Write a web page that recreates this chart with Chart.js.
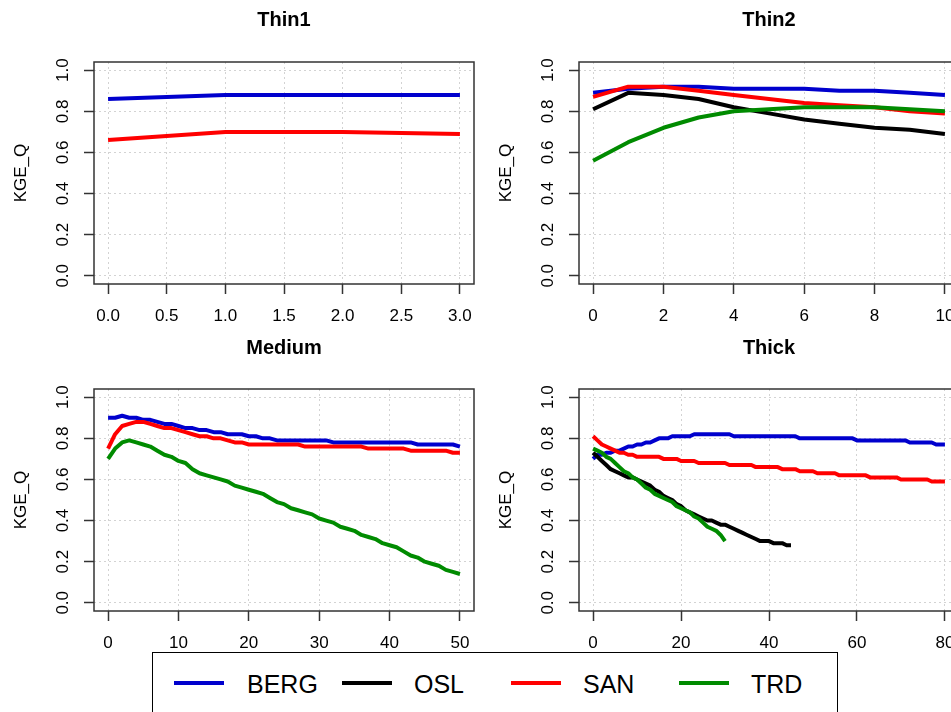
<!DOCTYPE html>
<html>
<head>
<meta charset="utf-8">
<script src="https://cdn.jsdelivr.net/npm/chart.js@4.4.0/dist/chart.umd.min.js"></script>
<style>
  html, body { margin: 0; padding: 0; background: #fff; overflow: hidden; width: 951px; height: 712px; }
  canvas { position: absolute; }
  #legend { position: absolute; left: 152px; top: 652px; width: 686px; height: 80px; box-sizing: border-box;
            border: 1.5px solid #000; background: #fff; font-family: 'Liberation Sans', Arial, sans-serif; font-size: 25px; }
  .sw { position: absolute; top: 28px; width: 50px; height: 4px; }
  .lb { position: absolute; top: 19px; line-height: 25px; color: #000; }
</style>
</head>
<body>
<canvas id="thin1" width="480" height="330" style="left:0;top:0"></canvas>
<canvas id="thin2" width="480" height="330" style="left:485px;top:0"></canvas>
<canvas id="medium" width="480" height="330" style="left:0;top:330px"></canvas>
<canvas id="thick" width="480" height="330" style="left:485px;top:330px"></canvas>
<div id="legend">
  <div class="sw" style="left:21px;background:#0000CD"></div><span class="lb" style="left:94px">BERG</span>
  <div class="sw" style="left:189px;background:#000"></div><span class="lb" style="left:261px">OSL</span>
  <div class="sw" style="left:358px;background:#FF0000"></div><span class="lb" style="left:430px">SAN</span>
  <div class="sw" style="left:526px;background:#008B00"></div><span class="lb" style="left:598px">TRD</span>
</div>
<script>
// x runs 0,1,2,... for every series (index = x value)
const thin1Berg = [0.86, 0.88, 0.88, 0.88];
const thin1San  = [0.66, 0.70, 0.70, 0.69];

const thin2Berg = [0.89, 0.91, 0.92, 0.92, 0.91, 0.91, 0.91, 0.90, 0.90, 0.89, 0.88];
const thin2Osl  = [0.81, 0.89, 0.88, 0.86, 0.82, 0.79, 0.76, 0.74, 0.72, 0.71, 0.69];
const thin2San  = [0.87, 0.92, 0.92, 0.90, 0.88, 0.86, 0.84, 0.83, 0.82, 0.80, 0.79];
const thin2Trd  = [0.56, 0.65, 0.72, 0.77, 0.80, 0.81, 0.82, 0.82, 0.82, 0.81, 0.80];

const mediumBerg = [0.90, 0.90, 0.91, 0.90, 0.90, 0.89, 0.89, 0.88, 0.87, 0.87,
  0.86, 0.85, 0.85, 0.84, 0.84, 0.83, 0.83, 0.82, 0.82, 0.82,
  0.81, 0.81, 0.80, 0.80, 0.79, 0.79, 0.79, 0.79, 0.79, 0.79,
  0.79, 0.79, 0.78, 0.78, 0.78, 0.78, 0.78, 0.78, 0.78, 0.78,
  0.78, 0.78, 0.78, 0.78, 0.77, 0.77, 0.77, 0.77, 0.77, 0.77, 0.76];
const mediumSan = [0.75, 0.82, 0.86, 0.87, 0.88, 0.88, 0.87, 0.86, 0.85, 0.85,
  0.84, 0.83, 0.82, 0.81, 0.81, 0.80, 0.80, 0.79, 0.78, 0.78,
  0.77, 0.77, 0.77, 0.77, 0.77, 0.77, 0.77, 0.77, 0.76, 0.76,
  0.76, 0.76, 0.76, 0.76, 0.76, 0.76, 0.76, 0.75, 0.75, 0.75,
  0.75, 0.75, 0.75, 0.74, 0.74, 0.74, 0.74, 0.74, 0.74, 0.73, 0.73];
const mediumTrd = [0.70, 0.75, 0.78, 0.79, 0.78, 0.77, 0.76, 0.74, 0.72, 0.71,
  0.69, 0.68, 0.65, 0.63, 0.62, 0.61, 0.60, 0.59, 0.57, 0.56,
  0.55, 0.54, 0.53, 0.51, 0.49, 0.48, 0.46, 0.45, 0.44, 0.43,
  0.41, 0.40, 0.39, 0.37, 0.36, 0.35, 0.33, 0.32, 0.31, 0.29,
  0.28, 0.27, 0.25, 0.23, 0.22, 0.20, 0.19, 0.18, 0.16, 0.15, 0.14];

const thickBerg = [0.70, 0.72, 0.72, 0.73, 0.73, 0.74, 0.74, 0.75, 0.76, 0.76,
  0.77, 0.77, 0.78, 0.78, 0.79, 0.80, 0.80, 0.80, 0.81, 0.81,
  0.81, 0.81, 0.81, 0.82, 0.82, 0.82, 0.82, 0.82, 0.82, 0.82,
  0.82, 0.82, 0.81, 0.81, 0.81, 0.81, 0.81, 0.81, 0.81, 0.81,
  0.81, 0.81, 0.81, 0.81, 0.81, 0.81, 0.81, 0.80, 0.80, 0.80,
  0.80, 0.80, 0.80, 0.80, 0.80, 0.80, 0.80, 0.80, 0.80, 0.80,
  0.79, 0.79, 0.79, 0.79, 0.79, 0.79, 0.79, 0.79, 0.79, 0.79,
  0.79, 0.79, 0.78, 0.78, 0.78, 0.78, 0.78, 0.78, 0.77, 0.77, 0.77];
const thickOsl = [0.73, 0.71, 0.69, 0.67, 0.65, 0.64, 0.63, 0.62, 0.61, 0.61,
  0.60, 0.59, 0.58, 0.57, 0.55, 0.54, 0.52, 0.51, 0.50, 0.48,
  0.47, 0.45, 0.44, 0.43, 0.42, 0.41, 0.40, 0.40, 0.39, 0.38,
  0.38, 0.37, 0.36, 0.35, 0.34, 0.33, 0.32, 0.31, 0.30, 0.30,
  0.30, 0.29, 0.29, 0.29, 0.28, 0.28];
const thickSan = [0.81, 0.79, 0.77, 0.76, 0.75, 0.74, 0.73, 0.73, 0.72, 0.72,
  0.71, 0.71, 0.71, 0.71, 0.71, 0.71, 0.70, 0.70, 0.70, 0.70,
  0.69, 0.69, 0.69, 0.69, 0.68, 0.68, 0.68, 0.68, 0.68, 0.68,
  0.68, 0.67, 0.67, 0.67, 0.67, 0.67, 0.67, 0.66, 0.66, 0.66,
  0.66, 0.66, 0.66, 0.65, 0.65, 0.65, 0.65, 0.64, 0.64, 0.64,
  0.64, 0.63, 0.63, 0.63, 0.63, 0.63, 0.62, 0.62, 0.62, 0.62,
  0.62, 0.62, 0.62, 0.61, 0.61, 0.61, 0.61, 0.61, 0.61, 0.61,
  0.60, 0.60, 0.60, 0.60, 0.60, 0.60, 0.60, 0.59, 0.59, 0.59, 0.59];
const thickTrd = [0.75, 0.74, 0.73, 0.71, 0.70, 0.68, 0.66, 0.64, 0.63, 0.61,
  0.60, 0.58, 0.56, 0.55, 0.53, 0.52, 0.51, 0.50, 0.49, 0.47,
  0.46, 0.45, 0.44, 0.42, 0.41, 0.39, 0.37, 0.36, 0.35, 0.33, 0.30];

const yTicks = [0, 0.2, 0.4, 0.6, 0.8, 1.0];
const thin1Ticks = [0, 0.5, 1.0, 1.5, 2.0, 2.5, 3.0];
const thin2Ticks = [0, 2, 4, 6, 8, 10];
const mediumTicks = [0, 10, 20, 30, 40, 50];
const thickTicks = [0, 20, 40, 60, 80];

const FONT = "'Liberation Sans', Arial, sans-serif";
const COLORS = { BERG: '#0000CD', OSL: '#000000', SAN: '#FF0000', TRD: '#008B00' };
const ORDER = { BERG: 4, OSL: 3, SAN: 2, TRD: 1 };  // TRD drawn last, like R

const frame = {
  id: 'frame',
  beforeDatasetsDraw(chart) {
    const { ctx, chartArea: a } = chart;
    ctx.save();
    ctx.strokeStyle = '#333';
    ctx.lineWidth = 1.5;
    ctx.strokeRect(a.left, a.top, a.right - a.left, a.bottom - a.top);
    ctx.restore();
  }
};

function panel(id, title, titleTop, xMin, xMax, xTicks, xFmt, series) {
  const titleBottom = 38 - titleTop + (titleTop === 8 ? 0 : -3);
  const xHeight = titleTop === 8 ? 46 : 49;
  new Chart(document.getElementById(id), {
    type: 'line',
    data: {
      datasets: series.map(([name, ys]) => ({
        label: name,
        data: ys.map((y, i) => ({ x: i, y: y })),
        borderColor: COLORS[name],
        borderWidth: 4,
        pointRadius: 0,
        tension: 0,
        fill: false,
        borderJoinStyle: 'round',
        order: ORDER[name]
      }))
    },
    options: {
      responsive: false,
      animation: false,
      devicePixelRatio: 1,
      layout: { padding: { left: 0, right: 6, top: 0, bottom: 0 } },
      plugins: {
        legend: { display: false },
        tooltip: { enabled: false },
        title: {
          display: true, text: title, fullSize: false, color: '#000',
          font: { family: FONT, size: 20, weight: 'bold', lineHeight: 1.2 },
          padding: { top: titleTop, bottom: titleBottom }
        }
      },
      scales: {
        x: {
          type: 'linear', min: xMin, max: xMax,
          afterBuildTicks: s => { s.ticks = xTicks.map(v => ({ value: v })); },
          afterFit: s => { s.height = xHeight; s.paddingLeft = 0; s.paddingRight = 0; },
          ticks: { color: '#000', font: { family: FONT, size: 17 }, padding: 12, maxRotation: 0, autoSkip: false, callback: xFmt },
          grid: { color: '#d3d3d3', lineWidth: 1, tickLength: 10, tickColor: '#333', tickWidth: 1.5 },
          border: { display: false, dash: [2, 3] }
        },
        y: {
          min: -0.04, max: 1.04,
          afterBuildTicks: s => { s.ticks = yTicks.map(v => ({ value: v })); },
          afterFit: s => { s.width = 94; s.paddingTop = 0; s.paddingBottom = 0; },
          title: { display: true, text: 'KGE_Q', color: '#000', font: { family: FONT, size: 17 }, padding: { top: 11 } },
          ticks: { color: '#000', font: { family: FONT, size: 17 }, minRotation: 90, maxRotation: 90, crossAlign: 'center', padding: 9, autoSkip: false, callback: v => v.toFixed(1) },
          grid: { color: '#d3d3d3', lineWidth: 1, tickLength: 10, tickColor: '#333', tickWidth: 1.5 },
          border: { display: false, dash: [2, 3] }
        }
      }
    },
    plugins: [frame]
  });
}

const oneDec = v => v.toFixed(1);
const plain = v => String(v);

panel('thin1', 'Thin1', 8, -0.12, 3.12, thin1Ticks, oneDec,
  [['BERG', thin1Berg], ['SAN', thin1San]]);
panel('thin2', 'Thin2', 8, -0.4, 10.4, thin2Ticks, plain,
  [['BERG', thin2Berg], ['OSL', thin2Osl], ['SAN', thin2San], ['TRD', thin2Trd]]);
panel('medium', 'Medium', 6, -2, 52, mediumTicks, plain,
  [['BERG', mediumBerg], ['SAN', mediumSan], ['TRD', mediumTrd]]);
panel('thick', 'Thick', 6, -3.2, 83.2, thickTicks, plain,
  [['BERG', thickBerg], ['OSL', thickOsl], ['SAN', thickSan], ['TRD', thickTrd]]);
</script>
</body>
</html>
